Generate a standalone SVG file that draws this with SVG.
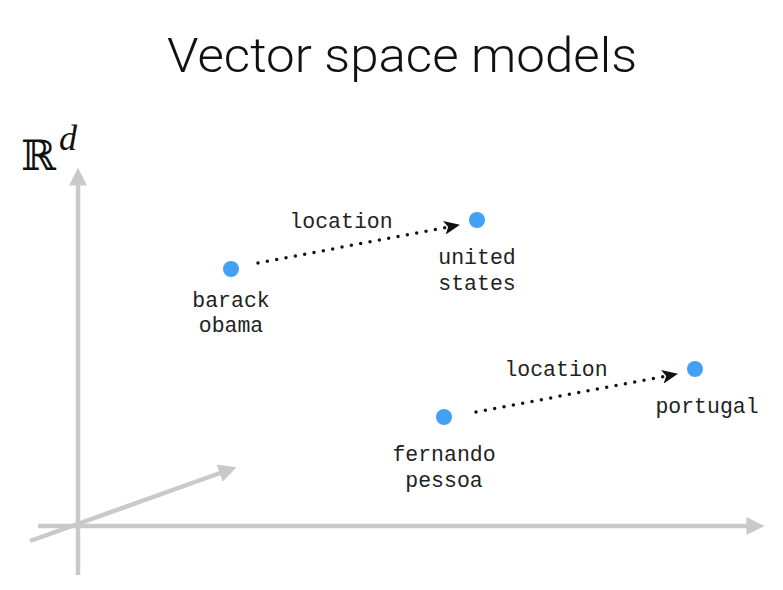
<svg xmlns="http://www.w3.org/2000/svg" width="783" height="590" viewBox="0 0 783 590">
<style>
.ax{stroke:#c9c9c9;stroke-width:4.5;fill:none}
.dot{fill:#42a0f5}
.lbl{font-family:"Liberation Mono","Courier New",monospace;font-size:21.5px;fill:#222;text-anchor:middle}
.rel{stroke:#111;stroke-width:3.5;stroke-linecap:round;stroke-dasharray:0 9.5;fill:none}
</style>
<defs>
<marker id="ga" viewBox="0 0 10 10" refX="2" refY="5" markerWidth="4" markerHeight="4" markerUnits="strokeWidth" orient="auto">
<path d="M0,0 L10,5 L0,10 Z" fill="#c9c9c9"/>
</marker>
<marker id="ba" viewBox="0 0 16 14" refX="15" refY="7" markerWidth="16" markerHeight="14" markerUnits="userSpaceOnUse" orient="auto">
<path d="M0,0 L16,7 L0,14 L4,7 Z" fill="#111"/>
</marker>
</defs>
<rect width="783" height="590" fill="#ffffff"/>
<text x="402" y="72" font-family="Roboto,'Liberation Sans',sans-serif" font-weight="300" font-size="48" fill="#111" text-anchor="middle" textLength="470" lengthAdjust="spacingAndGlyphs">Vector space models</text>
<text x="21" y="170" font-family="'DejaVu Serif',serif" font-size="42" fill="#111">ℝ</text>
<text x="59" y="150" font-family="'Liberation Serif',serif" font-style="italic" font-size="36" fill="#111">d</text>
<g id="axes">
<line class="ax" x1="78" y1="575" x2="78" y2="182" marker-end="url(#ga)"/>
<line class="ax" x1="38" y1="526" x2="750" y2="526" marker-end="url(#ga)"/>
<line class="ax" x1="30" y1="541" x2="223" y2="472" marker-end="url(#ga)"/>
</g>
<g id="connectors">
<line class="rel" x1="258" y1="263" x2="459" y2="225" marker-end="url(#ba)"/>
<text class="lbl" x="341" y="228">location</text>
<line class="rel" x1="476" y1="412" x2="677" y2="374" marker-end="url(#ba)"/>
<text class="lbl" x="556" y="376">location</text>
</g>
<g id="barack-obama">
<circle class="dot" cx="231" cy="269" r="8"/>
<text class="lbl" x="231" y="307">barack</text>
<text class="lbl" x="231" y="332">obama</text>
</g>
<g id="united-states">
<circle class="dot" cx="477" cy="220" r="8"/>
<text class="lbl" x="477" y="264">united</text>
<text class="lbl" x="477" y="290">states</text>
</g>
<g id="fernando-pessoa">
<circle class="dot" cx="444" cy="417" r="8"/>
<text class="lbl" x="444" y="461">fernando</text>
<text class="lbl" x="444" y="487">pessoa</text>
</g>
<g id="portugal">
<circle class="dot" cx="695" cy="369" r="8"/>
<text class="lbl" x="707" y="413">portugal</text>
</g>
</svg>
